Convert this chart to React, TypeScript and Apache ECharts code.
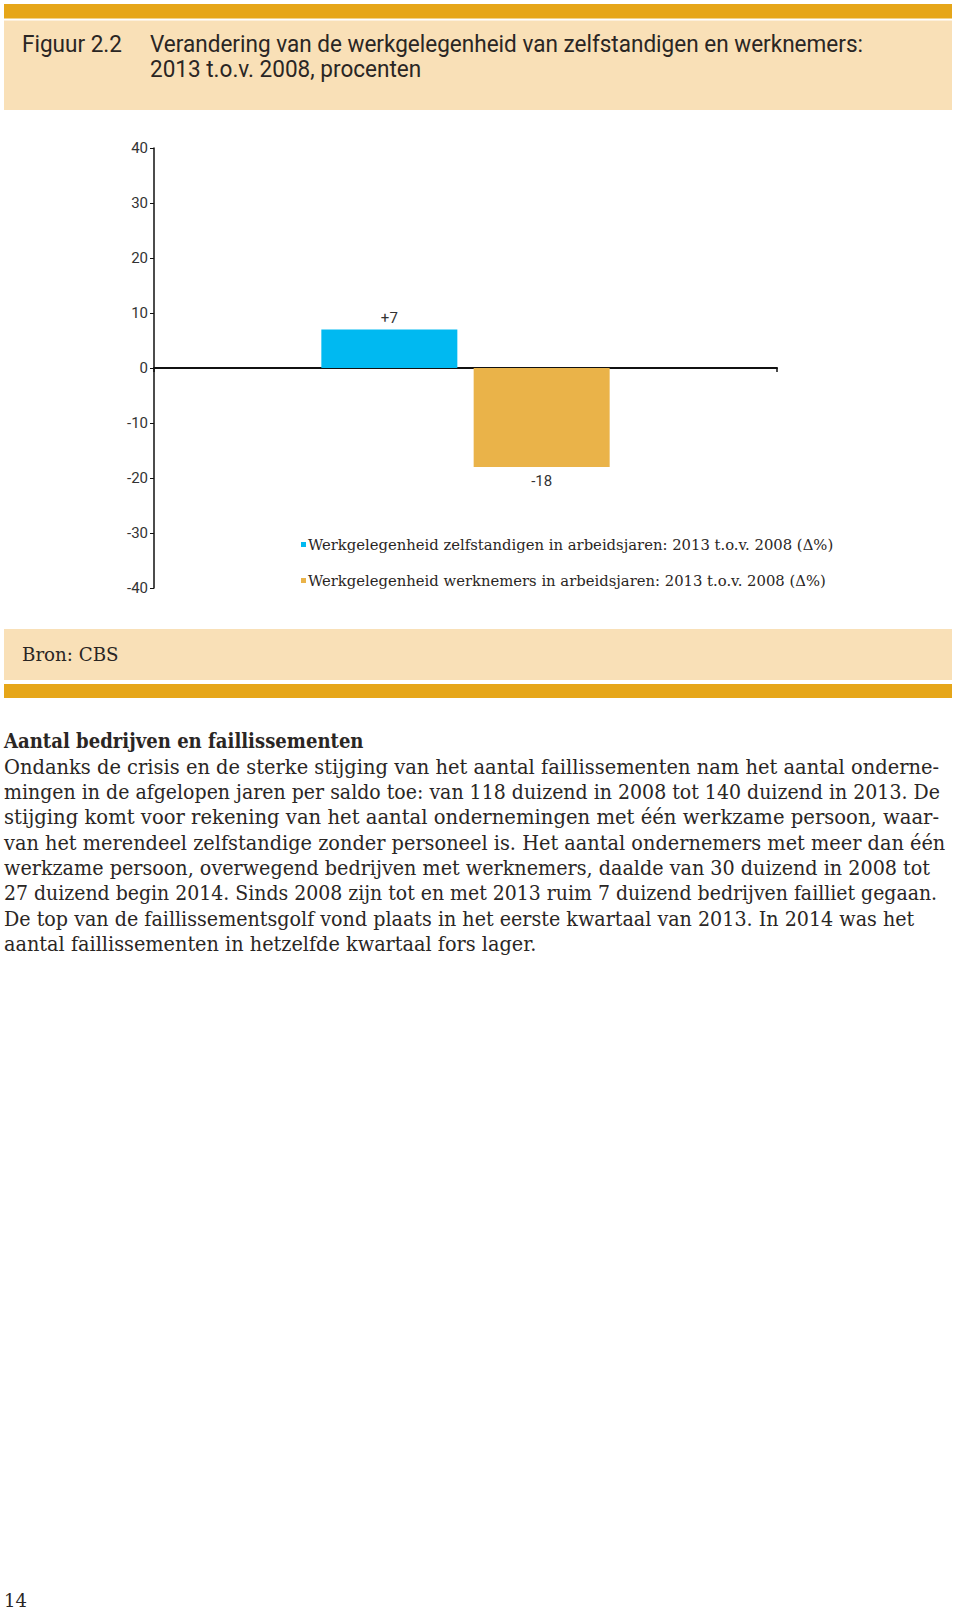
import React, { useEffect, useRef } from "react";
import * as echarts from "echarts";

const categories = [""];
const seriesNames = [
  "Werkgelegenheid zelfstandigen in arbeidsjaren: 2013 t.o.v. 2008 (\u0394%)",
  "Werkgelegenheid werknemers in arbeidsjaren: 2013 t.o.v. 2008 (\u0394%)",
];
const zelfstandigen = [7];
const werknemers = [-18];
const yTicks = { min: -40, max: 40, interval: 10 };

const titleLabel = "Figuur 2.2";
const titleLines = [
  "Verandering van de werkgelegenheid van zelfstandigen en werknemers:",
  "2013 t.o.v. 2008, procenten",
];
const sourceText = "Bron: CBS";
const heading = "Aantal bedrijven en faillissementen";
const bodyLines = [
  "Ondanks de crisis en de sterke stijging van het aantal faillissementen nam het aantal onderne-",
  "mingen in de afgelopen jaren per saldo toe: van 118 duizend in 2008 tot 140 duizend in 2013. De",
  "stijging komt voor rekening van het aantal ondernemingen met \u00e9\u00e9n werkzame persoon, waar-",
  "van het merendeel zelfstandige zonder personeel is. Het aantal ondernemers met meer dan \u00e9\u00e9n",
  "werkzame persoon, overwegend bedrijven met werknemers, daalde van 30 duizend in 2008 tot",
  "27 duizend begin 2014. Sinds 2008 zijn tot en met 2013 ruim 7 duizend bedrijven failliet gegaan.",
  "De top van de faillissementsgolf vond plaats in het eerste kwartaal van 2013. In 2014 was het",
  "aantal faillissementen in hetzelfde kwartaal fors lager.",
];
const pageNumber = "14";

// layout: rendered width (px) of each body line in the reference
const bodyLineWidths = [936, 937, 935, 942, 927, 934, 911, 533];
const headingWidth = 360;

const ORANGE = "#E6A619";
const BEIGE = "#F9E0B7";
const TEXT = "#2a2624";
const SERIF = '"DejaVu Serif", serif';
const SANS = 'Roboto, "Open Sans", sans-serif';

function measure(text: string, font: string): number {
  const c = document.createElement("canvas");
  const ctx = c.getContext("2d");
  if (!ctx) return 0;
  ctx.font = font;
  return ctx.measureText(text).width;
}

export default function App() {
  const ref = useRef<HTMLDivElement>(null);
  useEffect(() => {
    if (!ref.current) return;
    const chart = echarts.init(ref.current, null, { renderer: "svg" });
    const titleScale = 0.98;
    const bodyFont = `20px ${SERIF}`;
    const headFont = `bold 20px ${SERIF}`;
    const fit = (text: string, font: string, w: number, fallback: number) => {
      const m = measure(text, font);
      return m > 0 ? w / m : fallback;
    };
    const graphic: any[] = [
      { type: "rect", shape: { x: 4, y: 4, width: 948, height: 14.5 }, style: { fill: ORANGE } },
      { type: "rect", shape: { x: 4, y: 20.5, width: 948, height: 89.5 }, style: { fill: BEIGE } },
      {
        type: "text", x: 22, y: 44, scaleX: titleScale,
        style: { text: titleLabel, font: `23px ${SANS}`, fill: TEXT, verticalAlign: "middle" },
      },
      ...titleLines.map((t, i) => ({
        type: "text", x: 150, y: 44 + i * 25.5, scaleX: titleScale,
        style: { text: t, font: `23px ${SANS}`, fill: TEXT, verticalAlign: "middle" },
      })),
      { type: "rect", shape: { x: 4, y: 629, width: 948, height: 51 }, style: { fill: BEIGE } },
      { type: "rect", shape: { x: 4, y: 684, width: 948, height: 14 }, style: { fill: ORANGE } },
      {
        type: "text", x: 22, y: 654, scaleX: 0.96,
        style: { text: sourceText, font: `19px ${SERIF}`, fill: TEXT, verticalAlign: "middle" },
      },
      {
        type: "text", x: 4, y: 741, scaleX: fit(heading, headFont, headingWidth, 0.907),
        style: { text: heading, font: headFont, fill: TEXT, verticalAlign: "middle" },
      },
      ...bodyLines.map((t, i) => ({
        type: "text", x: 4, y: 767 + i * 25.35,
        scaleX: fit(t, bodyFont, bodyLineWidths[i], 0.96),
        style: { text: t, font: bodyFont, fill: TEXT, verticalAlign: "middle" },
      })),
      {
        type: "text", x: 4, y: 1600,
        style: { text: pageNumber, font: `18px ${SERIF}`, fill: TEXT, verticalAlign: "middle" },
      },
    ];
    chart.setOption({
      animation: false,
      backgroundColor: "#ffffff",
      graphic,
      grid: { left: 154, right: 183, top: 148, bottom: 1022, containLabel: false },
      legend: {
        orient: "vertical",
        left: 296,
        top: 532,
        itemWidth: 5,
        itemHeight: 5,
        itemGap: 21,
        icon: "rect",
        textStyle: { fontFamily: SERIF, fontSize: 14.8, color: TEXT, padding: [0, 0, 0, -3] },
        data: seriesNames,
      },
      xAxis: {
        type: "category",
        data: categories,
        axisLine: { onZero: true, lineStyle: { color: "#111", width: 2 } },
        axisTick: { show: true, length: 4, lineStyle: { color: "#111", width: 1.5 } },
        axisLabel: { show: false },
        splitLine: { show: false },
      },
      yAxis: {
        type: "value",
        min: yTicks.min,
        max: yTicks.max,
        interval: yTicks.interval,
        axisLine: { show: true, lineStyle: { color: "#111", width: 1.5 } },
        axisTick: { show: true, length: 4, lineStyle: { color: "#111", width: 1 } },
        axisLabel: { fontFamily: SANS, fontSize: 15, color: "#333", margin: 6 },
        splitLine: { show: false },
      },
      series: [
        {
          name: seriesNames[0],
          type: "bar",
          data: zelfstandigen,
          barWidth: 136,
          barGap: "12%",
          itemStyle: { color: "#00B9F1" },
          label: {
            show: true, position: "top", distance: 4,
            fontFamily: SANS, fontSize: 15, color: "#333",
            formatter: (p: any) => (p.value > 0 ? "+" + p.value : String(p.value)),
          },
        },
        {
          name: seriesNames[1],
          type: "bar",
          data: werknemers,
          barWidth: 136,
          barGap: "12%",
          itemStyle: { color: "#EAB349" },
          label: {
            show: true, position: "bottom", distance: 6,
            fontFamily: SANS, fontSize: 15, color: "#333",
            formatter: (p: any) => (p.value > 0 ? "+" + p.value : String(p.value)),
          },
        },
      ],
    });
    return () => chart.dispose();
  }, []);
  return (
    <div
      ref={ref}
      style={{ position: "absolute", left: 0, top: 0, width: 960, height: 1610 }}
    />
  );
}
